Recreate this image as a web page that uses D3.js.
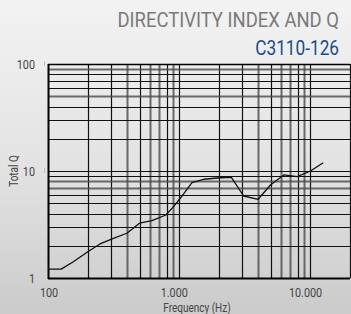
<!DOCTYPE html>
<meta charset="utf-8">
<style>
    html, body { margin: 0; padding: 0; }
    body { width: 351px; height: 314px; overflow: hidden; }
    svg { display: block; font-family: "Roboto", sans-serif; }
</style>
<body>
<script src="https://d3js.org/d3.v7.min.js"></script>
<script>
    // Total Q vs frequency
    const freqs = [100, 126, 156, 201, 249, 315, 399, 498, 619, 791, 905, 1018,
                   1250, 1534, 2056, 2495, 3096, 3989, 4955, 6258, 7914, 10000, 12500];
    const totalQ = [1.21, 1.21, 1.42, 1.76, 2.08, 2.35, 2.62, 3.25, 3.43, 3.88, 4.64, 5.56,
                    7.78, 8.37, 8.65, 8.73, 5.84, 5.44, 7.40, 9.18, 8.85, 10.0, 11.96];
    const xTicks = [100, 1000, 10000];
    const xTickLabels = ["100", "1.000", "10.000"];
    const yTicks = [1, 10, 100];
    const yTickLabels = ["1", "10", "100"];
    const title = "DIRECTIVITY INDEX AND Q";
    const model = "C3110-126";

    const width = 351, height = 314;
    const margin = {top: 64, right: 1, bottom: 36, left: 48};
    const narrow = 0.8; // condensed look of the original face

    const svg = d3.select("body").append("svg")
        .attr("width", width)
        .attr("height", height);

    const defs = svg.append("defs");
    const grad = defs.append("linearGradient")
        .attr("id", "bg").attr("x1", 0).attr("y1", 0).attr("x2", 0).attr("y2", 1);
    grad.append("stop").attr("offset", "0%").attr("stop-color", "#f3f3f3");
    grad.append("stop").attr("offset", "55%").attr("stop-color", "#e2e2e2");
    grad.append("stop").attr("offset", "100%").attr("stop-color", "#cbcbcb");

    svg.append("rect")
        .attr("width", width).attr("height", height)
        .attr("fill", "url(#bg)");

    // narrow text helper
    function ntext(sel, tx, ty, anchor, size, fill, str, sx) {
        return sel.append("text")
            .attr("transform", "translate(" + tx + "," + ty + ") scale(" + (sx || narrow) + ",1)")
            .attr("text-anchor", anchor)
            .style("font-size", size + "px")
            .style("fill", fill)
            .text(str);
    }

    // titles
    ntext(svg, 339, 27, "end", 20.5, "#7a7a7a", title, 0.9);
    ntext(svg, 339, 55, "end", 20.5, "#1c4c86", model, 0.84);

    const x = d3.scaleLog()
        .domain([100, 20000])
        .range([margin.left, width - margin.right]);

    const y = d3.scaleLog()
        .domain([1, 100])
        .range([height - margin.bottom, margin.top]);

    const plot = svg.append("g");

    // grid lines: every integer multiple within each decade
    const xGrid = x.ticks().filter(d => d > 100);
    const yGrid = y.ticks().filter(d => d > 1);
    const mant = d => Math.round(d / Math.pow(10, Math.floor(Math.log10(d) + 1e-9)));
    const xGray = m => [4, 6, 7, 9].includes(m);
    const yGray = d => [8, 7, 90, 50].includes(d);

    plot.selectAll(".vgrid")
        .data(xGrid)
        .enter().append("line")
        .attr("class", "vgrid")
        .attr("x1", d => Math.round(x(d)) + 0.5)
        .attr("x2", d => Math.round(x(d)) + 0.5)
        .attr("y1", margin.top)
        .attr("y2", height - margin.bottom)
        .style("stroke", d => xGray(mant(d)) ? "#4a4a4a" : "#111")
        .style("stroke-width", d => xGray(mant(d)) ? 2 : 1.2)
        .style("stroke-opacity", d => xGray(mant(d)) ? 0.8 : 1);

    plot.selectAll(".hgrid")
        .data(yGrid)
        .enter().append("line")
        .attr("class", "hgrid")
        .attr("x1", margin.left)
        .attr("x2", width - margin.right)
        .attr("y1", d => Math.round(y(d)) + 0.5)
        .attr("y2", d => Math.round(y(d)) + 0.5)
        .style("stroke", d => yGray(d) ? "#4a4a4a" : "#111")
        .style("stroke-width", d => yGray(d) ? 2 : 1.2)
        .style("stroke-opacity", d => yGray(d) ? 0.8 : 1);

    // frame: left, top and bottom
    plot.append("line")
        .attr("x1", margin.left + 0.5).attr("x2", margin.left + 0.5)
        .attr("y1", margin.top).attr("y2", height - margin.bottom + 1)
        .style("stroke", "#000").style("stroke-width", 2);
    plot.append("line")
        .attr("x1", margin.left).attr("x2", width - margin.right)
        .attr("y1", margin.top + 0.5).attr("y2", margin.top + 0.5)
        .style("stroke", "#000").style("stroke-width", 1.5);
    plot.append("line")
        .attr("x1", margin.left).attr("x2", width - margin.right)
        .attr("y1", height - margin.bottom + 0.5).attr("y2", height - margin.bottom + 0.5)
        .style("stroke", "#000").style("stroke-width", 2);

    // curve
    const line = d3.line()
        .x((d, i) => x(freqs[i]))
        .y(d => y(d));

    plot.append("path")
        .datum(totalQ)
        .attr("d", line)
        .style("fill", "none")
        .style("stroke", "#111")
        .style("stroke-width", 1.3)
        .style("stroke-linejoin", "round");

    // tick labels
    xTicks.forEach((d, i) => {
        ntext(svg, x(d) - (i === 0 ? -1 : 5), 297, "middle", 13.5, "#444", xTickLabels[i]);
    });

    yTicks.forEach((d, i) => {
        ntext(svg, 35, y(d) + 5, "end", 13.5, "#444", yTickLabels[i]);
    });

    // small gray ticks left of the axis
    svg.selectAll(".ytick")
        .data(yTicks.slice(1))
        .enter().append("line")
        .attr("class", "ytick")
        .attr("x1", 44.5).attr("x2", 44.5)
        .attr("y1", d => y(d) - 3).attr("y2", d => y(d) + 2)
        .style("stroke", "#bbb");

    // axis titles
    ntext(svg, 197, 312, "middle", 12.5, "#444", "Frequency (Hz)");

    svg.append("text")
        .attr("transform", "translate(18," + y(10) + ") rotate(-90) scale(" + narrow + ",1)")
        .attr("text-anchor", "middle")
        .style("font-size", "12.5px")
        .style("fill", "#444")
        .text("Total Q");
</script>
</body>
</html>
